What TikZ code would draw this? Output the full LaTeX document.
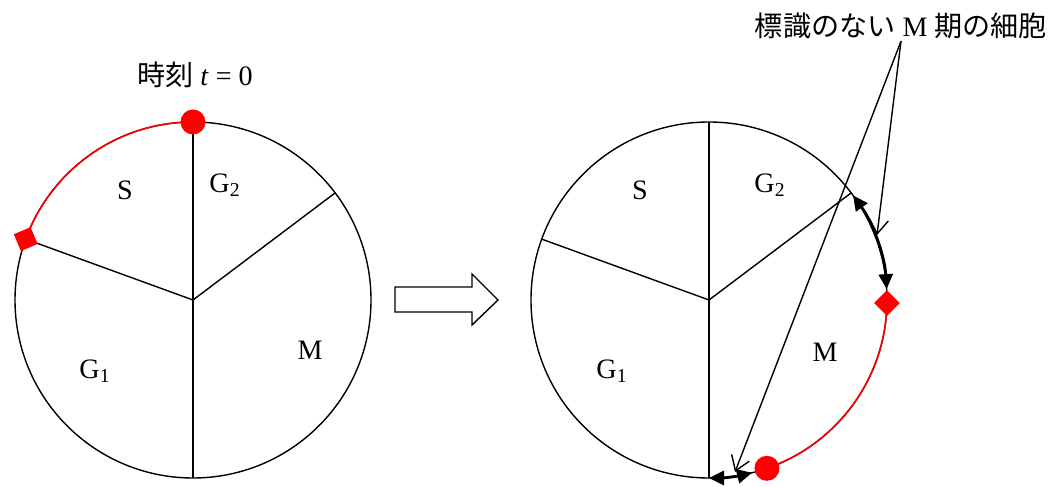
\documentclass[tikz,border=0pt]{standalone}
\usepackage{fontspec}
\setmainfont{Liberation Serif}
\newfontfamily\jpfont{Noto Sans CJK JP}
\usetikzlibrary{arrows.meta,shapes.geometric}

\begin{document}
\begin{tikzpicture}[
        phase_line/.style={line width=0.8pt},
        label_arc/.style={red, line width=0.9pt},
        phase_label/.style={font=\fontsize{16}{19}\selectfont},
        start_dot/.style={circle, fill=red, inner sep=0pt, minimum size=0.5cm},
        end_mark/.style={diamond, fill=red, inner sep=0pt, minimum size=0.52cm},
        span_arrow/.style={{Triangle[length=3mm,width=2.8mm]}-{Triangle[length=3mm,width=2.8mm]}, line width=1.6pt},
        pointer/.style={-{Straight Barb[length=2.8mm,width=3.8mm]}, line width=0.8pt}
    ]
    \useasboundingbox (0,0) rectangle (21,9.72);

    % Left cycle: labelled cells in S at t = 0
    \coordinate (c1) at (3.86,3.72);
    \draw[phase_line] (c1) circle[radius=3.56cm];
    \draw[phase_line] (c1) +(90:3.56) -- +(-90:3.56);
    \draw[phase_line] (c1) -- +(160:3.56);
    \draw[phase_line] (c1) -- +(37:3.56);
    \draw[label_arc] (c1) +(90:3.56) arc[start angle=90, end angle=160, radius=3.56];
    \path (c1) +(90:3.56) node[start_dot] (dot1) {};
    \path (c1) +(160:3.56) node[end_mark, rotate=-22] (mark1) {};

    \node[phase_label] (s1) at (2.5,5.92) {S};
    \node[phase_label] (g21) at (4.5,6.02) {G\textsubscript{2}};
    \node[phase_label] (g11) at (1.9,2.3) {G\textsubscript{1}};
    \node[phase_label] (m1) at (6.2,2.72) {M};
    \node[phase_label] (time) at (3.9,8.22) {{\jpfont 時刻} \textit{t} = 0};

    % Hollow arrow between the two cycles
    \draw[phase_line] (7.9,3.98) -- (9.44,3.98) -- (9.44,4.24) -- (9.96,3.72)
        -- (9.44,3.22) -- (9.44,3.48) -- (7.9,3.48) -- cycle;

    % Right cycle: labelled cells moved on into M
    \coordinate (c2) at (14.18,3.72);
    \draw[phase_line] (c2) circle[radius=3.56cm];
    \draw[phase_line] (c2) +(90:3.56) -- +(-90:3.56);
    \draw[phase_line] (c2) -- +(160:3.56);
    \draw[phase_line] (c2) -- +(37:3.56);
    \draw[label_arc] (c2) +(-71:3.56) arc[start angle=-71, end angle=-1, radius=3.56];
    \path (c2) +(-71:3.56) node[start_dot] (dot2) {};
    \path (c2) +(-1:3.56) node[end_mark] (mark2) {};

    \node[phase_label] (s2) at (12.8,5.92) {S};
    \node[phase_label] (g22) at (15.4,6.02) {G\textsubscript{2}};
    \node[phase_label] (g12) at (12.24,2.3) {G\textsubscript{1}};
    \node[phase_label] (m2) at (16.5,2.68) {M};

    % Unlabelled M cells on both sides of the red arc
    \draw[span_arrow] (c2) +(36:3.56) arc[start angle=36, end angle=3.5, radius=3.56];
    \draw[span_arrow] (c2) +(-90:3.56) arc[start angle=-90, end angle=-76, radius=3.56];

    \node[phase_label, inner sep=1pt] (note) at (18.02,9.2) {{\jpfont 標識のない} M {\jpfont 期の細胞}};
    \coordinate (hit1) at (17.54,5.02);
    \coordinate (hit2) at (14.70,0.28);
    \draw[pointer] (note.south) -- (hit1);
    \draw[pointer] (note.south) -- (hit2);

\end{tikzpicture}
\end{document}
